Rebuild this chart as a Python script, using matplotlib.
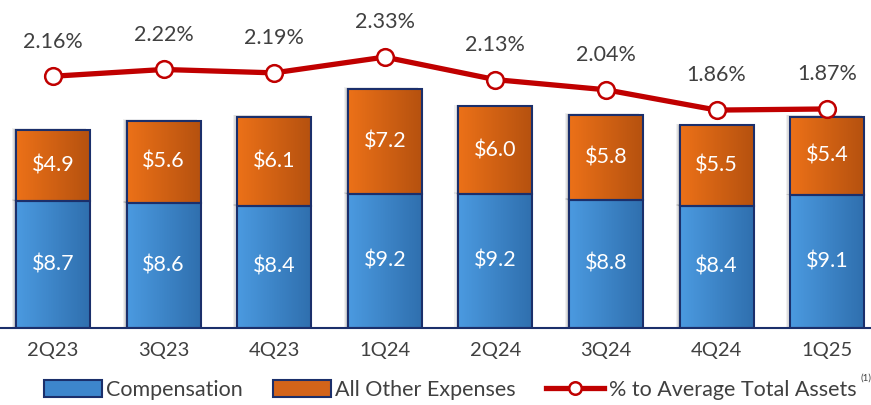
import numpy as np
import matplotlib.pyplot as plt
from matplotlib.patches import Rectangle
from matplotlib.lines import Line2D
from matplotlib.colors import LinearSegmentedColormap

plt.rcParams['font.family'] = ['Lato', 'DejaVu Sans']

quarters = ['2Q23', '3Q23', '4Q23', '1Q24', '2Q24', '3Q24', '4Q24', '1Q25']
compensation = [8.7, 8.6, 8.4, 9.2, 9.2, 8.8, 8.4, 9.1]
other_expenses = [4.9, 5.6, 6.1, 7.2, 6.0, 5.8, 5.5, 5.4]
pct_assets = [2.16, 2.22, 2.19, 2.33, 2.13, 2.04, 1.86, 1.87]

blue_cmap = LinearSegmentedColormap.from_list('b', ['#4b9ae0', '#2f6fae'])
orange_cmap = LinearSegmentedColormap.from_list('o', ['#ec7118', '#b5510f'])
edge = '#1b2f6b'
red = '#c00000'
grey = '#404040'

fig = plt.figure(figsize=(8.71, 4.05), dpi=100)
ax = fig.add_axes([0, 77 / 405, 1, 328 / 405])
ax2 = ax.twinx()

x = np.arange(len(quarters))
w = 0.67
grad = np.linspace(0, 1, 64).reshape(1, -1)


def gradient_bar(xc, bottom, height, cmap):
    # soft drop shadow
    for k, a in zip([0.10, 0.07, 0.04], [0.06, 0.07, 0.09]):
        ax.add_patch(Rectangle((xc - w / 2 - k * 0.35, bottom), w, height + k * 1.2,
                               facecolor='black', edgecolor='none', alpha=a, zorder=1))
    ax.imshow(grad, cmap=cmap, aspect='auto', zorder=2,
              extent=(xc - w / 2, xc + w / 2, bottom, bottom + height))
    ax.add_patch(Rectangle((xc - w / 2, bottom), w, height, facecolor='none',
                           edgecolor=edge, linewidth=1.5, zorder=3))


for i in x:
    gradient_bar(i, 0, compensation[i], blue_cmap)
    gradient_bar(i, compensation[i], other_expenses[i], orange_cmap)
    ax.text(i, compensation[i] / 2, f'${compensation[i]:.1f}', ha='center', va='center',
            color='white', fontsize=15.5, zorder=4)
    ax.text(i, compensation[i] + other_expenses[i] / 2, f'${other_expenses[i]:.1f}',
            ha='center', va='center', color='white', fontsize=15.5, zorder=4)

ax.set_xlim(-0.479, 7.396)
ax.set_ylim(0, 22.5)
ax.set_xticks(x)
ax.set_xticklabels(quarters, fontsize=14.5, color=grey)
ax.tick_params(axis='x', length=0, pad=10)
ax.set_yticks([])
for s in ['top', 'left', 'right']:
    ax.spines[s].set_visible(False)
ax.spines['bottom'].set_color(edge)
ax.spines['bottom'].set_linewidth(1.5)

ax2.plot(x, pct_assets, color=red, linewidth=3.8, marker='o', markersize=12,
         markerfacecolor='white', markeredgecolor=red, markeredgewidth=1.8, zorder=5)
for i, v in zip(x, pct_assets):
    ax2.annotate(f'{v:.2f}%', (i, v), xytext=(0, 25), textcoords='offset points',
                 ha='center', va='center', fontsize=15.5, color=grey)
ax2.set_ylim(-0.072, 2.836)
ax2.set_yticks([])
ax2.axis('off')

handles = [
    Rectangle((0, 0), 1, 1, facecolor='#3d86cc', edgecolor=edge, linewidth=1.5),
    Rectangle((0, 0), 1, 1, facecolor='#d3641a', edgecolor=edge, linewidth=1.5),
    Line2D([], [], color=red, linewidth=3.8, marker='o', markersize=9,
           markerfacecolor='white', markeredgecolor=red, markeredgewidth=1.8),
]
labels = ['Compensation', 'All Other Expenses', '% to Average Total Assets']
leg = fig.legend(handles, labels, loc='center', bbox_to_anchor=(450 / 871, 1 - 390 / 405),
                 ncol=3, frameon=False, fontsize=15.5, handlelength=2.7, handleheight=0.8,
                 handletextpad=0.2, columnspacing=1.4)
for t in leg.get_texts():
    t.set_color(grey)
fig.text(860 / 871, 1 - 378 / 405, '(1)', fontsize=7, color=grey, va='center')

fig.savefig('out.png', dpi=100)
